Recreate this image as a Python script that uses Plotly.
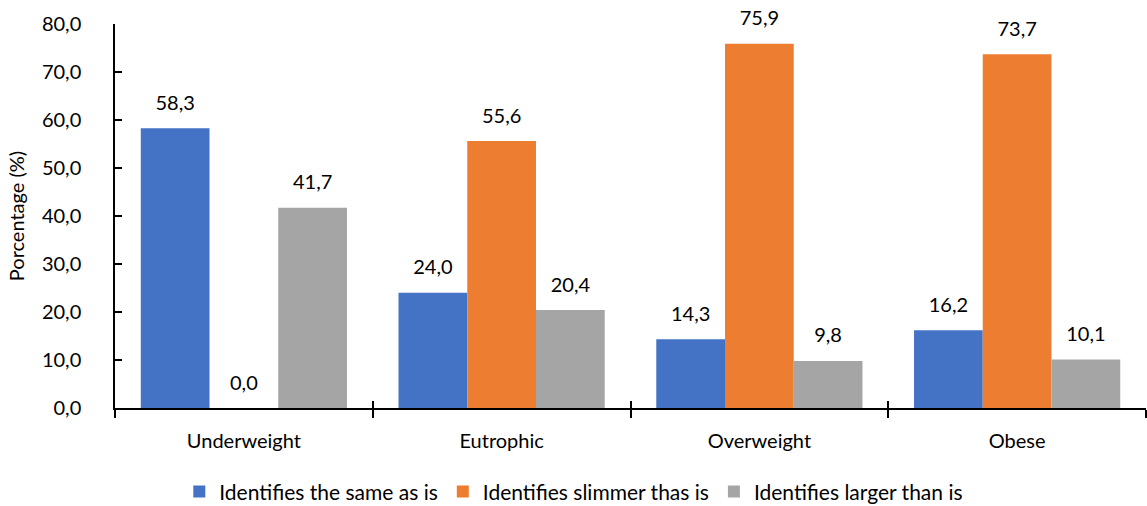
import plotly.graph_objects as go

categories = ["Underweight", "Eutrophic", "Overweight", "Obese"]
same_as_is = [58.3, 24.0, 14.3, 16.2]
slimmer_than_is = [0.0, 55.6, 75.9, 73.7]
larger_than_is = [41.7, 20.4, 9.8, 10.1]

series = [
    ("Identifies the same as is", same_as_is, "#4472C4"),
    ("Identifies slimmer thas is", slimmer_than_is, "#ED7D31"),
    ("Identifies larger than is", larger_than_is, "#A5A5A5"),
]

FONT = "Lato, Carlito, Calibri, sans-serif"
FS = 20

fig = go.Figure()
for i, (name, vals, color) in enumerate(series):
    fig.add_trace(go.Bar(
        x=categories, y=vals, name=name, offsetgroup=str(i),
        marker=dict(color=color, line=dict(width=0)),
        cliponaxis=False,
    ))
# value labels, grouped like the bars and lifted above each bar top
for i, (name, vals, color) in enumerate(series):
    fig.add_trace(go.Scatter(
        x=categories, y=vals, offsetgroup=str(i), mode="markers+text",
        text=[f"{v:.1f}".replace(".", ",") for v in vals],
        textposition="top center",
        textfont=dict(size=FS, color="#000000", family=FONT),
        marker=dict(size=20, opacity=0),
        showlegend=False, hoverinfo="skip", cliponaxis=False,
    ))

# invisible trace to host a second x-axis drawing the inner half of the boundary ticks
fig.add_trace(go.Scatter(x=categories, y=[0] * len(categories), xaxis="x2",
                         mode="markers", marker=dict(opacity=0),
                         showlegend=False, hoverinfo="skip"))

fig.update_layout(
    width=1147, height=506,
    margin=dict(l=115, r=1, t=24, b=98, autoexpand=False),
    paper_bgcolor="white", plot_bgcolor="white",
    separators=",.",
    barmode="group", bargap=0.2, bargroupgap=0,
    scattermode="group", scattergap=0.2,
    font=dict(family=FONT, size=FS, color="#000000"),
    showlegend=True,
    legend=dict(orientation="h", x=0.445, xanchor="center", y=-0.165, yanchor="top",
                font=dict(size=21, family=FONT), traceorder="normal",
                itemwidth=30, tracegroupgap=0),
    xaxis=dict(
        showline=True, linecolor="#000000", linewidth=1.5,
        ticks="outside", ticklen=8, tickwidth=1.5, tickcolor="#000000",
        tickson="boundaries", showgrid=False, automargin=False,
        tickfont=dict(size=FS, family=FONT), ticklabelstandoff=14,
    ),
    xaxis2=dict(
        overlaying="x", matches="x", showline=False, showgrid=False,
        ticks="inside", ticklen=7, tickwidth=1.5, tickcolor="#000000",
        tickson="boundaries", showticklabels=False, side="bottom",
    ),
    yaxis=dict(
        range=[0, 80], dtick=10, tickformat=".1f",
        showline=True, linecolor="#000000", linewidth=1.5,
        ticks="inside", ticklen=7, tickwidth=1.5, tickcolor="#000000",
        showgrid=False, zeroline=False, automargin=False,
        tickfont=dict(size=FS, family=FONT), ticklabelstandoff=28,
        title=dict(text="Porcentage (%)", font=dict(size=FS, family=FONT), standoff=12),
    ),
)

fig.write_html("out.html")
